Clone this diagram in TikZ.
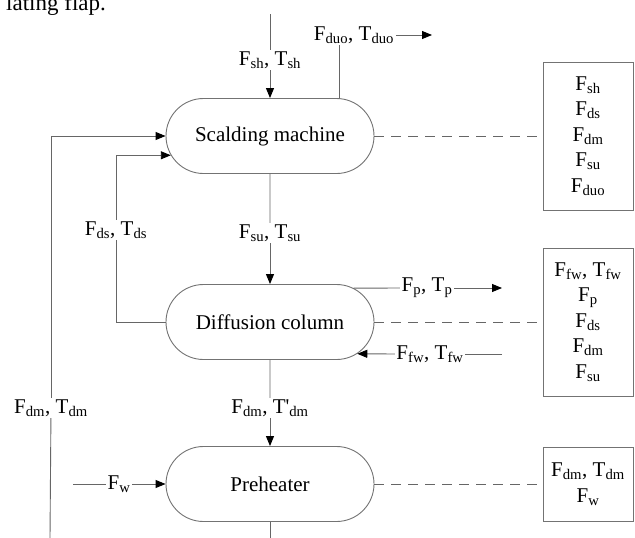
\documentclass[tikz,border=0pt]{standalone}
\usepackage{fontspec}
\setmainfont{Liberation Serif}
\usepackage{tikz}
\usetikzlibrary{shapes.misc,arrows.meta}
\newcommand{\fsub}[2]{#1\textsubscript{#2}}

\begin{document}
\begin{tikzpicture}[x=1pt,y=-1pt,font=\fontsize{21}{25.5}\selectfont,
    stage/.style={rounded rectangle,draw=black!55,line width=0.9pt,minimum width=208pt,minimum height=75pt,inner sep=0pt},
    lbl/.style={inner sep=1.5pt},
    vars/.style={draw=black!55,line width=0.9pt,minimum width=90pt,align=center,inner sep=0pt},
    pipe/.style={draw=black!60,line width=0.9pt},
    flow/.style={pipe,-{Triangle[length=10pt,width=8pt,color=black]}},
    link/.style={pipe,dash pattern=on 10pt off 7pt}]
                    \useasboundingbox (0,0) rectangle (635,538);
                    \node[anchor=base west,inner sep=0pt,font=\fontsize{23}{27}\selectfont] (capt) at (6,10) {lating flap.};
                    % process units
                    \node[stage] (scald) at (270,136) {Scalding machine};
                    \node[stage] (diff) at (270,322) {Diffusion column};
                    \node[stage] (pre) at (270,484) {Preheater};
                    % variable boxes
                    \node[vars,minimum height=148pt] (box1) at (588,136) {\fsub{F}{sh}\\\fsub{F}{ds}\\\fsub{F}{dm}\\\fsub{F}{su}\\\fsub{F}{duo}};
                    \node[vars,minimum height=148pt] (box2) at (588,322) {\fsub{F}{fw}, \fsub{T}{fw}\\\fsub{F}{p}\\\fsub{F}{ds}\\\fsub{F}{dm}\\\fsub{F}{su}};
                    \node[vars,minimum height=74pt] (box3) at (588,484) {\fsub{F}{dm}, \fsub{T}{dm}\\\fsub{F}{w}};
                    % free ends
                    \coordinate (shin) at (270,14);
                    \coordinate (duob) at (339,98);
                    \coordinate (duoout) at (432,35);
                    \coordinate (pout) at (502,288);
                    \coordinate (fwin) at (502,354);
                    \coordinate (win) at (73,484);
                    \coordinate (dmbot) at (50,538);
                    \coordinate (prebot) at (270,538);
                    % stream labels
                    \node[lbl] (lsh) at (270,60) {\fsub{F}{sh}, \fsub{T}{sh}};
                    \node[lbl] (lduo) at (354,35) {\fsub{F}{duo}, \fsub{T}{duo}};
                    \node[lbl] (lsu) at (270,233) {\fsub{F}{su}, \fsub{T}{su}};
                    \node[lbl] (lds) at (116,230) {\fsub{F}{ds}, \fsub{T}{ds}};
                    \node[lbl] (ldm) at (51,408) {\fsub{F}{dm}, \fsub{T}{dm}};
                    \node[lbl] (ldmb) at (270,408) {\fsub{F}{dm}, T\textquotesingle\textsubscript{dm}};
                    \node[lbl] (lp) at (427,288) {\fsub{F}{p}, \fsub{T}{p}};
                    \node[lbl] (lfw) at (430,354) {\fsub{F}{fw}, \fsub{T}{fw}};
                    \node[lbl] (lw) at (119,484) {\fsub{F}{w}};
                    % streams
                    \draw[pipe] (shin) -- (lsh);
                    \draw[flow] (lsh) -- (scald);
                    \draw[pipe] (duob) -- (duob |- lduo.south);
                    \draw[flow] (lduo.east) -- (duoout);
                    \draw[pipe] (scald) -- (lsu);
                    \draw[flow] (lsu) -- (diff);
                    \draw[pipe] (diff.west) -| (lds);
                    \draw[flow] (lds) |- (scald.191);
                    \draw[pipe] (dmbot) -- (ldm);
                    \draw[flow] (ldm) |- (scald.west);
                    \draw[pipe] (diff) -- (ldmb);
                    \draw[flow] (ldmb) -- (pre);
                    \draw[pipe] (diff.22.5) -- (lp.west);
                    \draw[flow] (lp.east) -- (pout);
                    \draw[pipe] (fwin) -- (lfw.east);
                    \draw[flow] (lfw.west) -- (diff.-20);
                    \draw[pipe] (win) -- (lw.west);
                    \draw[flow] (lw.east) -- (pre.west);
                    \draw[pipe] (pre) -- (prebot);
                    % links to the variable boxes
                    \foreach \u/\b in {scald/box1,diff/box2,pre/box3}{
                    \draw[link] (\u.east) -- (\b.west);
                    }
                    \end{tikzpicture}
\end{document}
